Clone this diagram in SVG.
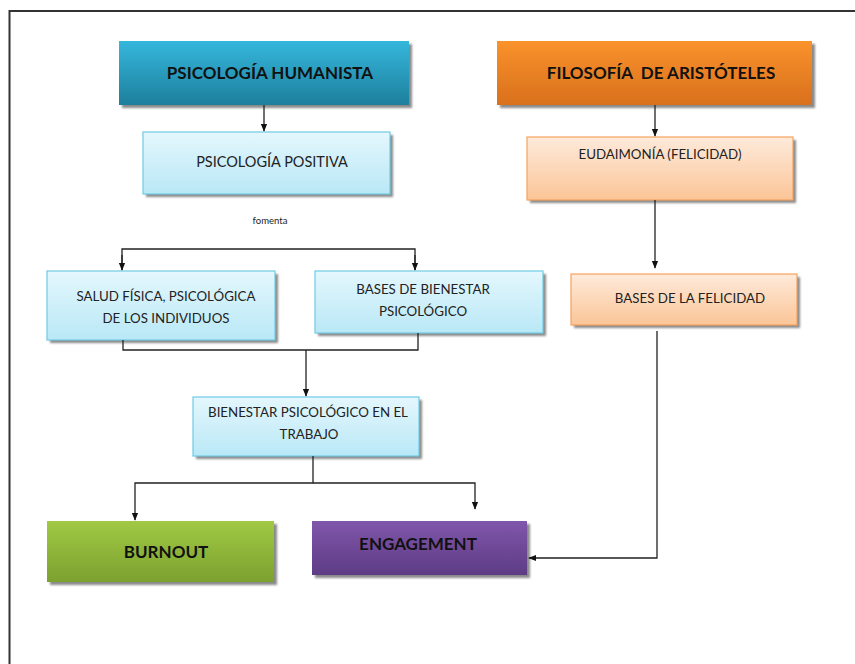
<svg xmlns="http://www.w3.org/2000/svg" width="855" height="664" viewBox="0 0 855 664">
<defs>
  <linearGradient id="gTeal" x1="0" y1="0" x2="0" y2="1"><stop offset="0" stop-color="#35b7dc"/><stop offset="1" stop-color="#1d7f9c"/></linearGradient>
  <linearGradient id="gOrange" x1="0" y1="0" x2="0" y2="1"><stop offset="0" stop-color="#fa922c"/><stop offset="1" stop-color="#d9701c"/></linearGradient>
  <linearGradient id="gLBlue" x1="0" y1="0" x2="0" y2="1"><stop offset="0" stop-color="#e4f7fd"/><stop offset="1" stop-color="#b9e8f6"/></linearGradient>
  <linearGradient id="gLOrange" x1="0" y1="0" x2="0" y2="1"><stop offset="0" stop-color="#feeadb"/><stop offset="1" stop-color="#fbc597"/></linearGradient>
  <linearGradient id="gGreen" x1="0" y1="0" x2="0" y2="1"><stop offset="0" stop-color="#a0c944"/><stop offset="1" stop-color="#7ca12f"/></linearGradient>
  <linearGradient id="gPurple" x1="0" y1="0" x2="0" y2="1"><stop offset="0" stop-color="#8056ab"/><stop offset="1" stop-color="#5e3c85"/></linearGradient>
  <filter id="sh" x="-5%" y="-10%" width="115%" height="130%"><feGaussianBlur stdDeviation="1"/></filter>
  <marker id="arr" viewBox="0 0 10 10" refX="9" refY="5" markerWidth="8" markerHeight="8" markerUnits="userSpaceOnUse" orient="auto"><path d="M0,1 L10,5 L0,9 z" fill="#111"/></marker>
</defs>
<style>
  .shadow{fill:#8a8a8a;filter:url(#sh)}
  .t{font-family:Lato,"Open Sans","Liberation Sans",sans-serif;fill:#222;text-anchor:middle}
  .big{font-size:17px;font-weight:bold;fill:#111}
  .sm{font-size:13.3px}
  .lb{stroke:#6fcbe6;stroke-width:1.2}
  .lo{stroke:#f5a25e;stroke-width:1.2}
  .c{fill:none;stroke:#222;stroke-width:1.3}
</style>
<rect x="9.5" y="11" width="860" height="670" fill="#fff" stroke="#333" stroke-width="2"/>

<g id="n-humanista">
  <rect class="shadow" x="122" y="44" width="290" height="64"/>
  <rect x="119" y="41" width="290" height="64" fill="url(#gTeal)"/>
  <text class="t big" x="270" y="79">PSICOLOGÍA HUMANISTA</text>
</g>
<g id="n-aristoteles">
  <rect class="shadow" x="500" y="44" width="315" height="64"/>
  <rect x="497" y="41" width="315" height="64" fill="url(#gOrange)"/>
  <text class="t big" x="661" y="79" xml:space="preserve">FILOSOFÍA  DE ARISTÓTELES</text>
</g>
<g id="n-positiva">
  <rect class="shadow" x="146" y="135" width="247" height="62"/>
  <rect class="lb" x="143" y="132" width="247" height="62" fill="url(#gLBlue)"/>
  <text class="t sm" x="272" y="167" style="font-size:14.5px">PSICOLOGÍA POSITIVA</text>
</g>
<g id="n-eudaimonia">
  <rect class="shadow" x="530" y="140" width="266" height="63"/>
  <rect class="lo" x="527" y="137" width="266" height="63" fill="url(#gLOrange)"/>
  <text class="t sm" x="660" y="159">EUDAIMONÍA (FELICIDAD)</text>
</g>
<g id="n-salud">
  <rect class="shadow" x="50" y="274" width="228" height="69"/>
  <rect class="lb" x="47" y="271" width="228" height="69" fill="url(#gLBlue)"/>
  <text class="t sm" x="166" y="301">SALUD FÍSICA, PSICOLÓGICA</text>
  <text class="t sm" x="166" y="323">DE LOS INDIVIDUOS</text>
</g>
<g id="n-bases-bienestar">
  <rect class="shadow" x="318" y="274" width="228" height="62"/>
  <rect class="lb" x="315" y="271" width="228" height="62" fill="url(#gLBlue)"/>
  <text class="t sm" x="423" y="294">BASES DE BIENESTAR</text>
  <text class="t sm" x="423" y="316">PSICOLÓGICO</text>
</g>
<g id="n-bases-felicidad">
  <rect class="shadow" x="574" y="277" width="226" height="51"/>
  <rect class="lo" x="571" y="274" width="226" height="51" fill="url(#gLOrange)"/>
  <text class="t sm" x="690" y="303">BASES DE LA FELICIDAD</text>
</g>
<g id="n-trabajo">
  <rect class="shadow" x="196" y="400" width="226" height="59"/>
  <rect class="lb" x="193" y="397" width="226" height="59" fill="url(#gLBlue)"/>
  <text class="t sm" x="308" y="417">BIENESTAR PSICOLÓGICO EN EL</text>
  <text class="t sm" x="309" y="439">TRABAJO</text>
</g>
<g id="n-burnout">
  <rect class="shadow" x="50" y="524" width="227" height="61"/>
  <rect x="47" y="521" width="227" height="61" fill="url(#gGreen)"/>
  <text class="t big" x="166" y="558">BURNOUT</text>
</g>
<g id="n-engagement">
  <rect class="shadow" x="315" y="524" width="215" height="54"/>
  <rect x="312" y="521" width="215" height="54" fill="url(#gPurple)"/>
  <text class="t big" x="418" y="550">ENGAGEMENT</text>
</g>

<text class="t" x="270" y="224" style="font-size:9.5px">fomenta</text>

<g id="connectors">
  <path class="c" d="M264,105 V131" marker-end="url(#arr)"/>
  <path class="c" d="M122,270 V249 H415 V270" />
  <path class="c" d="M122,255 V270" marker-end="url(#arr)"/>
  <path class="c" d="M415,255 V270" marker-end="url(#arr)"/>
  <path class="c" d="M123,340 V350 H418 V333"/>
  <path class="c" d="M306,350 V396" marker-end="url(#arr)"/>
  <path class="c" d="M313,456 V483 H135 V520" marker-end="url(#arr)"/>
  <path class="c" d="M313,483 H475 V509" marker-end="url(#arr)"/>
  <path class="c" d="M655,105 V136" marker-end="url(#arr)"/>
  <path class="c" d="M655,200 V268" marker-end="url(#arr)"/>
  <path class="c" d="M657,331 V558 H529" marker-end="url(#arr)"/>
</g>
</svg>
